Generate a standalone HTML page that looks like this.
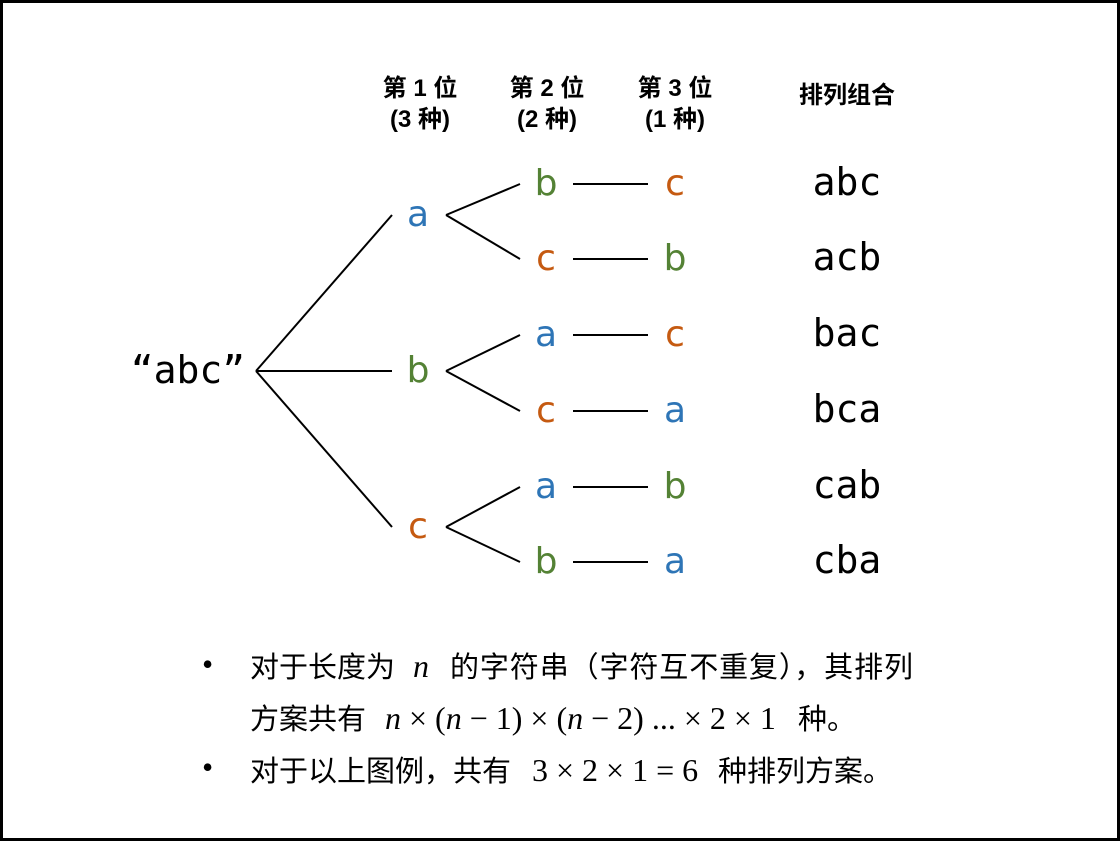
<!DOCTYPE html>
<html><head><meta charset="utf-8">
<style>
html,body{margin:0;padding:0;background:#fff;}
svg{display:block;}
.h{font-family:"Liberation Sans","Noto Sans CJK SC",sans-serif;font-weight:bold;font-size:24px;fill:#000;}
.l{font-family:"DejaVu Sans",sans-serif;font-size:36px;}
.m{font-family:"DejaVu Sans Mono","Liberation Mono",monospace;font-size:38px;fill:#000;}
.t{font-family:"Liberation Serif","Noto Sans CJK SC",serif;font-size:32px;fill:#000;}
.cj{font-family:"Noto Sans CJK SC",sans-serif;font-size:29px;}
</style></head>
<body>
<svg width="1120" height="841" viewBox="0 0 1120 841">
<rect x="1.5" y="1.5" width="1117" height="838" fill="#fff" stroke="#000" stroke-width="3"/>
<g>
<text class="h" x="420" y="96" text-anchor="middle">第 1 位</text>
<text class="h" x="420" y="127" text-anchor="middle">(3 种)</text>
<text class="h" x="547" y="96" text-anchor="middle">第 2 位</text>
<text class="h" x="547" y="127" text-anchor="middle">(2 种)</text>
<text class="h" x="675" y="96" text-anchor="middle">第 3 位</text>
<text class="h" x="675" y="127" text-anchor="middle">(1 种)</text>
<text class="h" x="847" y="103" text-anchor="middle">排列组合</text>
</g>
<g id="tree"></g>
<text class="m" x="188" y="383" text-anchor="middle">“abc”</text>
<g>
<text class="t" x="202" y="675">•</text>
<text class="t" y="677"><tspan class="cj" x="250">对于长度为</tspan><tspan x="413" font-style="italic">n</tspan><tspan class="cj" x="450" textLength="463" lengthAdjust="spacing">的字符串（字符互不重复），其排列</tspan></text>
<text class="t" y="729"><tspan class="cj" x="250">方案共有</tspan><tspan x="385"><tspan font-style="italic">n</tspan> × (<tspan font-style="italic">n</tspan> − 1) × (<tspan font-style="italic">n</tspan> − 2) ... × 2 × 1</tspan><tspan class="cj" x="798">种。</tspan></text>
<text class="t" x="202" y="778">•</text>
<text class="t" y="781"><tspan class="cj" x="250">对于以上图例，共有</tspan><tspan x="532">3 × 2 × 1 = 6</tspan><tspan class="cj" x="718">种排列方案。</tspan></text>
</g>
</svg>
<script>
const letters = ["a","b","c"];
const colors = {a:"#2e75b6", b:"#548235", c:"#c55a11"};
const level1Y = [215, 371, 527];
const level2Y = [[184, 259],[335, 411],[487, 562]];
const ns = "http://www.w3.org/2000/svg";
const g = document.getElementById("tree");
function mk(tag, attrs){const e=document.createElementNS(ns,tag);for(const k in attrs)e.setAttribute(k,attrs[k]);g.appendChild(e);return e;}
function line(x1,y1,x2,y2,name){const e=mk("line",{x1,y1,x2,y2,stroke:"#000","stroke-width":2});

}
function txt(x,y,s,cls,fill,name){const e=mk("text",{x,y:y+11,"text-anchor":"middle",class:cls});if(fill)e.setAttribute("fill",fill);e.textContent=s;

}
letters.forEach((a,i)=>{
  const y1=level1Y[i];
  line(256,371,392,y1,"edge-root-"+a);
  txt(418,y1,a,"l",colors[a],"node-"+a);
  const rest=letters.filter(x=>x!==a);
  rest.forEach((b,j)=>{
    const y2=level2Y[i][j];
    const c=rest.find(x=>x!==b);
    line(446,y1,520,y2,"edge-"+a+"-"+b);
    txt(546,y2,b,"l",colors[b],"node-"+a+b);
    line(573,y2,648,y2,"edge-"+a+b+"-"+c);
    txt(675,y2,c,"l",colors[c],"node-"+a+b+c);
    txt(847,y2,a+b+c,"m",null,"result-"+a+b+c);
  });
});
</script>
</body></html>
